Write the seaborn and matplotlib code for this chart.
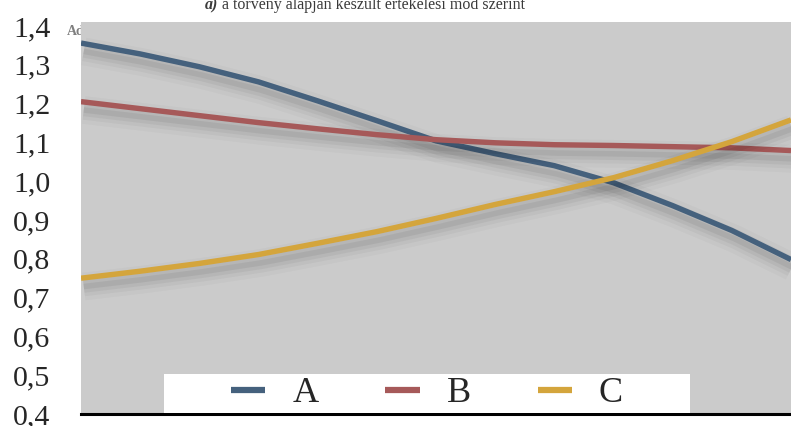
import matplotlib
matplotlib.use("Agg")
import matplotlib.pyplot as plt
import matplotlib.patheffects as pe
from matplotlib.patches import Rectangle
import seaborn as sns
import pandas as pd

# Readings along the horizontal axis (evenly spaced points)
points = [1, 2, 3, 4, 5, 6, 7, 8, 9, 10, 11, 12, 13]
series_a = [1.356, 1.328, 1.295, 1.256, 1.207, 1.156, 1.104, 1.071, 1.040, 0.996, 0.937, 0.873, 0.798]
series_b = [1.205, 1.187, 1.169, 1.151, 1.135, 1.120, 1.107, 1.099, 1.094, 1.092, 1.089, 1.086, 1.079]
series_c = [0.750, 0.768, 0.788, 0.811, 0.840, 0.870, 0.904, 0.940, 0.973, 1.009, 1.053, 1.102, 1.158]
series_names = ["A", "B", "C"]
y_ticks = [0.4, 0.5, 0.6, 0.7, 0.8, 0.9, 1.0, 1.1, 1.2, 1.3, 1.4]
title_italic = "a)"
title_rest = " a törvény alapján készült értékelési mód szerint"

colors = {"A": "#45617d", "B": "#a65959", "C": "#d4a53c"}

df = pd.DataFrame({
    "x": points * 3,
    "value": series_a + series_b + series_c,
    "series": [n for n in series_names for _ in points],
})

sns.set_theme(style="white")
plt.rcParams["font.family"] = ["Liberation Serif", "DejaVu Serif"]

W, H = 791, 426
fig = plt.figure(figsize=(W / 100, H / 100), dpi=100)
fig.patch.set_facecolor("white")
ax = fig.add_axes([81 / W, 1 - 414 / H, 1 - 81 / W, (414 - 22) / H])
ax.set_facecolor("#cbcbcb")

sns.lineplot(data=df, x="x", y="value", hue="series", palette=colors,
             linewidth=3.9, ax=ax, legend=False, sort=False)

# soft drop shadow under each curve, built from stacked translucent strokes
shadow = [
    pe.SimpleLineShadow(offset=(2, -6), shadow_color="black", alpha=0.025, linewidth=20),
    pe.SimpleLineShadow(offset=(2, -6), shadow_color="black", alpha=0.035, linewidth=14),
    pe.SimpleLineShadow(offset=(2, -6), shadow_color="black", alpha=0.045, linewidth=9),
    pe.SimpleLineShadow(offset=(2, -6), shadow_color="black", alpha=0.06, linewidth=4),
    pe.Normal(),
]
for line in ax.lines:
    line.set_path_effects(shadow)
    line.set_solid_capstyle("butt")
    line.set_solid_joinstyle("round")

ax.set_xlim(points[0], points[-1])
ax.set_ylim(0.4026, 1.4103)
ax.set_yticks(y_ticks)
ax.set_yticklabels([f"{v:.1f}".replace(".", ",") for v in y_ticks], fontsize=21.5)
ax.tick_params(axis="y", length=0, pad=22)
ax.set_xticks([])
ax.set_xlabel("")
ax.set_ylabel("")
for side in ["left", "right", "top"]:
    ax.spines[side].set_visible(False)
ax.spines["bottom"].set_color("black")
ax.spines["bottom"].set_linewidth(2.2)

# white legend panel near the bottom of the plot
px_to_ax_x = lambda px: (px - 81) / (W - 81)
px_to_ax_y = lambda py: (414 - py) / (414 - 22)
x0, x1 = px_to_ax_x(164), px_to_ax_x(690)
y0, y1 = px_to_ax_y(413), px_to_ax_y(374)
ax.add_patch(Rectangle((x0, y0), x1 - x0, y1 - y0, transform=ax.transAxes,
                       facecolor="white", edgecolor="none", zorder=4))

handles = [plt.Line2D([], [], color=colors[n], linewidth=4.5, solid_capstyle="butt")
           for n in series_names]
leg = ax.legend(handles, series_names, ncol=3, loc="center",
                bbox_to_anchor=((x0 + x1) / 2, (y0 + y1) / 2),
                fontsize=26, frameon=False, borderaxespad=0, borderpad=0,
                handlelength=0.95, handletextpad=0.75, columnspacing=1.85)
leg.set_zorder(5)

# heading above the plot, partly cut off at the top edge
t1 = fig.text(205 / W, 1 - 9 / H, title_italic, fontsize=11.5,
              style="italic", weight="bold", color="#3a3a3a", va="baseline")
fig.canvas.draw()
bb = t1.get_window_extent()
fig.text(bb.x1 / W, 1 - 9 / H, title_rest, fontsize=11.5,
         color="#3a3a3a", va="baseline")

# small side caption tucked behind the plot area
fig.text(67 / W, 1 - 35 / H, "Adat", fontsize=10, weight="bold",
         color="#808080", va="baseline", zorder=-1)

fig.savefig("out.png", dpi=100)
